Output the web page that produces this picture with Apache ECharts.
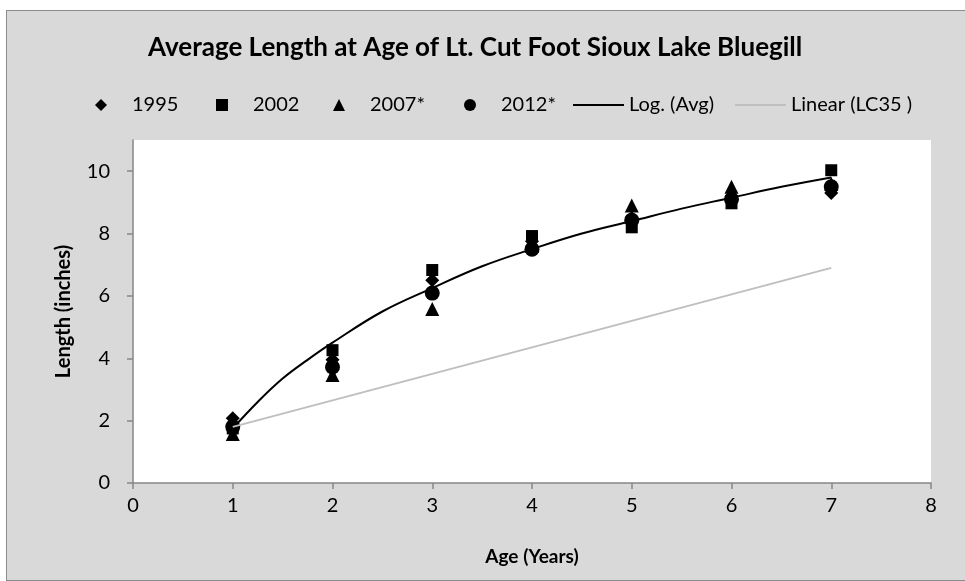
<!DOCTYPE html>
<html>
  <head>
    <meta http-equiv="Content-Type" content="text/html; charset=utf-8" />
    <title>Bluegill length at age</title>
    <script src="https://cdn.jsdelivr.net/npm/echarts@6/dist/echarts.min.js"></script>
    <style>
      body { margin: 0; background: #ffffff; }
      #bar { position: absolute; left: 6px; top: 10px; width: 965px; height: 571px;
             background: #d9d9d9; border: 1px solid #8c8c8c; box-sizing: border-box; }
    </style>
    <script>
      // ages (x values)
      var ages = [1, 2, 3, 4, 5, 6, 7];
      // average length (inches) by survey year
      var len1995 = [2.08, 3.95, 6.5, 7.75, 8.5, 9.2, 9.3];
      var len2002 = [1.75, 4.26, 6.83, 7.92, 8.2, 8.97, 10.03];
      var len2007 = [1.57, 3.46, 5.58, 7.6, 8.9, 9.5, 9.6];
      var len2012 = [1.8, 3.72, 6.09, 7.5, 8.43, 9.1, 9.5];
      // log trendline of the average
      var logX = [1, 1.25, 1.5, 1.75, 2, 2.5, 3, 3.5, 4, 4.5, 5, 5.5, 6, 6.5, 7];
      var logY = [1.75, 2.6, 3.35, 3.95, 4.5, 5.5, 6.25, 6.95, 7.5, 8.0, 8.4, 8.8, 9.15, 9.5, 9.8];
      // linear trendline (LC35) end points
      var linX = [1, 7];
      var linY = [1.8, 6.9];
      var yTicks = [0, 2, 4, 6, 8, 10];

      var seriesNames = ['1995', '2002', '2007*', '2012*', 'Log. (Avg)', 'Linear (LC35 )'];
      var markerIcons = [
        'path://M5,0L10,5L5,10L0,5Z',
        'path://M0,0H10V10H0Z',
        'path://M5,0L10,10L0,10Z',
        'path://M0,5A5,5,0,1,1,10,5A5,5,0,1,1,0,5Z'
      ];
      // left edge of each legend entry
      var legendLeft = [88, 209, 326, 457, 566, 728];

      var myChart1;
      window.onload = function () {
        myChart1 = echarts.init(document.getElementById('bar'));
        SetOptions();
      }

      function pairs(xs, ys) {
        var out = [];
        for (var i = 0; i < xs.length; i++) {
          out.push([xs[i], ys[i]]);
        }
        return out;
      }

      function SetOptions() {
        var font = 'Lato, "Open Sans", sans-serif';

        // one legend per entry so each sits where the original puts it
        var legends = [];
        for (var i = 0; i < seriesNames.length; i++) {
          var isLine = i >= 4;
          legends.push({
            left: legendLeft[i],
            top: 84,
            padding: 0,
            itemWidth: isLine ? 51 : 52,
            itemHeight: isLine ? 2 : 12,
            textStyle: { fontFamily: font, fontSize: 20, color: '#000' },
            data: [{ name: seriesNames[i], icon: isLine ? 'rect' : markerIcons[i] }]
          });
        }

        var option = {
          animation: false,
          textStyle: { fontFamily: font },
          title: {
            text: 'Average Length at Age of Lt. Cut Foot Sioux Lake Bluegill',
            left: 141,
            top: 24,
            padding: 0,
            textStyle: { fontFamily: font, fontSize: 26, fontWeight: 'bold', color: '#000' }
          },
          legend: legends,
          grid: {
            left: 126,
            top: 129,
            right: 39,
            bottom: 97,
            show: true,
            backgroundColor: '#ffffff',
            borderWidth: 0
          },
          xAxis: {
            type: 'value',
            min: 0,
            max: 8,
            interval: 1,
            name: 'Age (Years)',
            nameLocation: 'middle',
            nameGap: 64,
            nameTextStyle: { fontFamily: font, fontSize: 19, fontWeight: 'bold', color: '#000' },
            axisLine: { lineStyle: { color: '#868686', width: 1.5 } },
            axisTick: { show: true, length: 6, lineStyle: { color: '#868686', width: 1.5 } },
            axisLabel: { fontSize: 20, color: '#000', margin: 13 },
            splitLine: { show: false }
          },
          yAxis: {
            type: 'value',
            min: 0,
            max: 11,
            interval: 2,
            name: 'Length (inches)',
            nameLocation: 'middle',
            nameGap: 59,
            nameTextStyle: { fontFamily: font, fontSize: 20, fontWeight: 'bold', color: '#000' },
            axisLine: { show: true, lineStyle: { color: '#868686', width: 1.5 } },
            axisTick: { show: true, length: 6, customValues: yTicks, lineStyle: { color: '#868686', width: 1.5 } },
            axisLabel: { fontSize: 20, color: '#000', margin: 23, customValues: yTicks },
            splitLine: { show: false }
          },
          series: [
            { name: seriesNames[0], type: 'scatter', symbol: 'diamond', symbolSize: 14,
              itemStyle: { color: '#000', opacity: 1 }, data: pairs(ages, len1995) },
            { name: seriesNames[1], type: 'scatter', symbol: 'rect', symbolSize: 12,
              itemStyle: { color: '#000', opacity: 1 }, data: pairs(ages, len2002) },
            { name: seriesNames[2], type: 'scatter', symbol: 'triangle', symbolSize: 14,
              itemStyle: { color: '#000', opacity: 1 }, data: pairs(ages, len2007) },
            { name: seriesNames[3], type: 'scatter', symbol: 'circle', symbolSize: 15,
              itemStyle: { color: '#000', opacity: 1 }, data: pairs(ages, len2012) },
            { name: seriesNames[4], type: 'line', symbol: 'none', smooth: 0.4,
              lineStyle: { color: '#000', width: 2 }, itemStyle: { color: '#000' },
              data: pairs(logX, logY) },
            { name: seriesNames[5], type: 'line', symbol: 'none',
              lineStyle: { color: '#bfbfbf', width: 2 }, itemStyle: { color: '#bfbfbf' },
              data: pairs(linX, linY) }
          ]
        };
        myChart1.setOption(option);
      }
    </script>
  </head>
  <body>
    <div id="bar"></div>
  </body>
</html>
